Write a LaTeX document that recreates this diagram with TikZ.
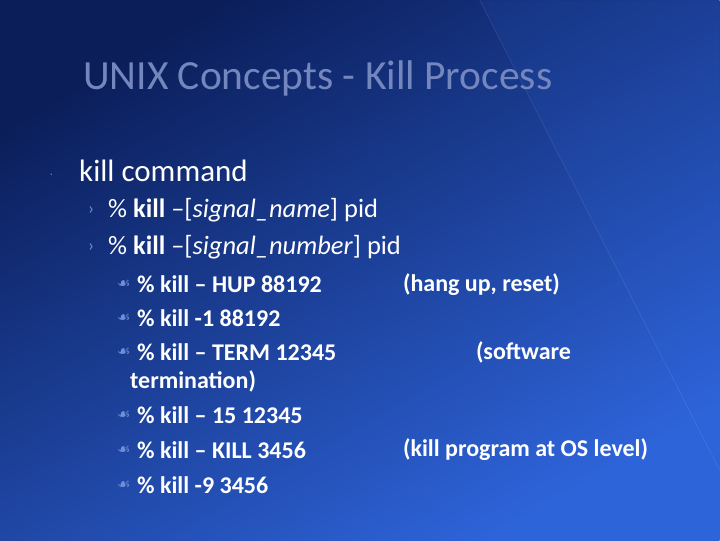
\documentclass[tikz,border=0pt]{standalone}
\usepackage{fontspec}
\setmainfont{Carlito}
\newfontfamily\symfont{DejaVu Sans}
\definecolor{bgtop}{HTML}{0B1E5A}
\definecolor{bgbot}{HTML}{2E64DA}
\definecolor{titlec}{HTML}{7486BE}
\definecolor{bulc}{HTML}{6F8FD8}
\begin{document}
\begin{tikzpicture}[x=1pt,y=-1pt,
  lone/.style={anchor=west,text=white,font=\fontsize{31}{36}\selectfont,inner sep=0},
  ltwo/.style={anchor=west,text=white,font=\fontsize{26.5}{30}\selectfont,inner sep=0},
  lthree/.style={anchor=west,text=white,font=\fontsize{24}{28}\selectfont\bfseries,inner sep=0},
  bul/.style={anchor=west,text=bulc,inner sep=0}]
\shade[top color=bgtop,bottom color=bgbot,shading angle=30] (0,0) rectangle (720,540);
\fill[bgbot,opacity=0.12] (480,0) -- (720,0) -- (720,470) -- cycle;
\draw[white,opacity=0.1,line width=0.6] (480,0) -- (720,470);
\useasboundingbox (0,0) rectangle (720,540);
\node[anchor=west,text=titlec,font=\fontsize{41.5}{48}\selectfont,inner sep=0] (title) at (83,78) {UNIX Concepts - Kill Process};
\node[bul,font=\fontsize{10}{12}\selectfont] (b0) at (50,176) {·};
\node[lone] (l1) at (79,171) {kill command};
\node[bul,font=\fontsize{18}{20}\selectfont] (b1) at (88,210) {›};
\node[ltwo] (a1) at (108,210) {\% \textbf{kill} --[\textit{signal\_name}] pid};
\node[bul,font=\fontsize{18}{20}\selectfont] (b2) at (88,247) {›};
\node[ltwo] (a2) at (108,247) {\% \textbf{kill} --[\textit{signal\_number}] pid};
\foreach \y/\t/\n in {284/{\% kill -- HUP 88192}/c1, 318/{\% kill -1 88192}/c2, 352/{\% kill -- TERM 12345}/c3, 415/{\% kill -- 15 12345}/c4, 450/{\% kill -- KILL 3456}/c5, 485/{\% kill -9 3456}/c6}{
  \node[bul,font=\symfont\fontsize{15}{17}\selectfont] (s\n) at (117,\y) {☙};
  \node[lthree] (\n) at (137,\y) {\t};
}
\node[lthree] (c3b) at (130,381) {termination)};
\node[lthree] (r1) at (403,284) {(hang up, reset)};
\node[lthree] (r2) at (476,352) {(software};
\node[lthree] (r3) at (403,450) {(kill program at OS level)};
\end{tikzpicture}
\end{document}
